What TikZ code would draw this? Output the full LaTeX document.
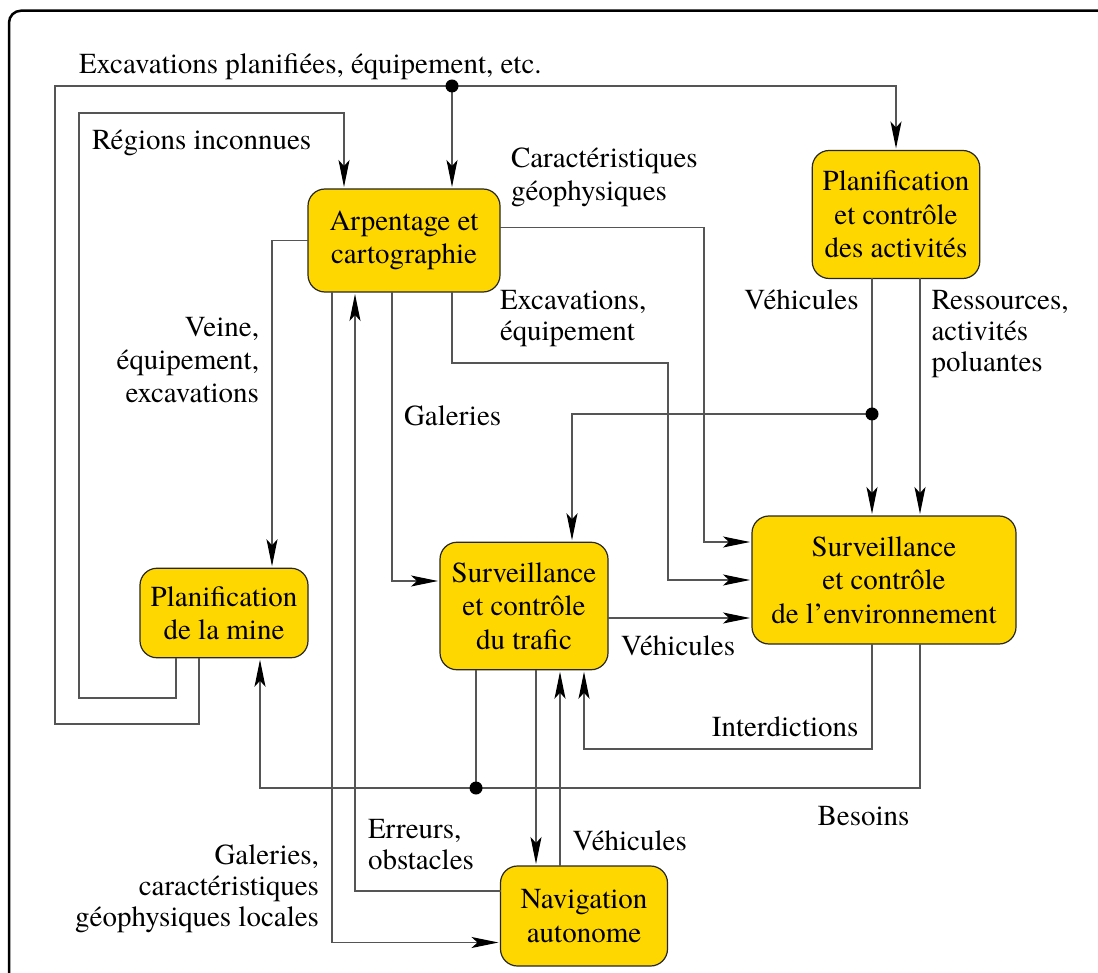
\documentclass[tikz,border=0pt]{standalone}
\usepackage{fontspec}
\setmainfont{TeX Gyre Termes}
\usetikzlibrary{arrows.meta}
\definecolor{boxfill}{RGB}{255,215,0}
\definecolor{linegray}{RGB}{85,85,85}
\newcommand\mlines[2]{\begin{tabular}[t]{@{}#1@{}}#2\end{tabular}}
\begin{document}
\begin{tikzpicture}[x=1pt,y=-1pt,
  box/.style={draw=black!85, line width=1.2pt, fill=boxfill, rounded corners=17pt,
    inner sep=0pt, outer sep=0pt, align=center, font=\fontsize{29}{33.5}\selectfont},
  conn/.style={draw=linegray, line width=1.3pt},
  arr/.style={conn, shorten >=2pt, -{Stealth[length=27pt,width=11pt,inset=6pt,color=black]}},
  lbl/.style={inner sep=0pt, outer sep=0pt, font=\fontsize{29}{31}\selectfont},
  lblw/.style={lbl, font=\fontsize{29}{33}\selectfont}
]
\useasboundingbox (0,0) rectangle (1098,973);
\begin{scope}
\clip (0,0) rectangle (1098,973);
\draw[line width=2.5pt, rounded corners=12pt] (9,990) -- (9,10.7) -- (1110,10.7);
\end{scope}

% boxes
\node[box, minimum width=192pt, minimum height=103pt] (arp) at (404,240.5) {Arpentage et\\cartographie};
\node[box, minimum width=167.5pt, minimum height=128pt] (pac) at (896,214.5) {Planification\\et contrôle\\des activités};
\node[box, minimum width=264pt, minimum height=128pt] (env) at (884,580) {Surveillance\\et contrôle\\de l’environnement};
\node[box, minimum width=168pt, minimum height=127.5pt] (tra) at (524,606) {Surveillance\\et contrôle\\du trafic};
\node[box, minimum width=168pt, minimum height=89.5pt] (mine) at (224,613) {Planification\\de la mine};
\node[box, minimum width=167pt, minimum height=100pt] (nav) at (584,916) {Navigation\\autonome};

% junctions
\coordinate (d1) at (452,86);
\coordinate (d2) at (872,414);
\coordinate (d3) at (476,788);

% Excavations planifiees
\draw[arr] ([xshift=-25pt]mine.south) -- (199,724) -- (55,724) -- (55,86) -- (896,86) -- (pac.north);
\draw[arr] (d1) -- ([xshift=48pt]arp.north);
% Regions inconnues
\draw[arr] ([xshift=-48pt]mine.south) -- (176,698) -- (79,698) -- (79,113) -- (344,113) -- ([xshift=-60pt]arp.north);
% Veine
\draw[arr] (arp.west) -- (272,240.5) -- ([xshift=48pt]mine.north);
% Caracteristiques
\draw[arr] ([yshift=13pt]arp.east) -- (704,227.5) -- (704,542) -- ([yshift=38pt]env.west);
% Excavations, equipement
\draw[arr] ([xshift=48pt]arp.south) -- (452,363) -- (668,363) -- (668,580) -- (env.west);
% Galeries
\draw[arr] ([xshift=-12pt]arp.south) -- (392,581) -- ([yshift=25pt]tra.west);
% Galeries, caracteristiques locales
\draw[arr] ([xshift=-72pt]arp.south) -- (332,942.5) -- ([yshift=-26.5pt]nav.west);
% Erreurs
\draw[arr] ([yshift=25pt]nav.west) -- (355,891) -- ([xshift=-49pt]arp.south);
% Vehicules from activities
\draw[conn] ([xshift=-24pt]pac.south) -- (d2);
\draw[arr] (d2) -- ([xshift=-12pt]env.north);
\draw[arr] (d2) -- (572,414) -- ([xshift=48pt]tra.north);
% Ressources
\draw[arr] ([xshift=24pt]pac.south) -- ([xshift=36pt]env.north);
% Vehicules traffic -> env
\draw[arr] ([yshift=-12pt]tra.east) -- ([yshift=-38pt]env.west);
% Interdictions
\draw[arr] ([xshift=-12pt]env.south) -- (872,749) -- (584,749) -- ([xshift=60pt]tra.south);
% Besoins
\draw[arr] ([xshift=36pt]env.south) -- (920,788) -- (260,788) -- ([xshift=36pt]mine.south);
\draw[conn] ([xshift=-48pt]tra.south) -- (d3);
% traffic <-> navigation
\draw[arr] ([xshift=12pt]tra.south) -- ([xshift=-48pt]nav.north);
\draw[arr] ([xshift=-24pt]nav.north) -- ([xshift=36pt]tra.south);

\foreach \d in {d1,d2,d3} \fill (\d) circle (6.5pt);

% labels
\node[lbl, anchor=base west] (l1) at (79,74) {Excavations planifiées, équipement, etc.};
\node[lbl, anchor=base west] (l2) at (92,150) {Régions inconnues};
\node[lblw, anchor=base west] (l3) at (511,168) {\mlines{l}{Caractéristiques\\géophysiques}};
\node[lblw, anchor=base east] (l4) at (259,337) {\mlines{r}{Veine,\\équipement,\\excavations}};
\node[lbl, anchor=base west] (l5) at (500,310) {\mlines{l}{Excavations,\\équipement}};
\node[lbl, anchor=base west] (l6) at (404,426) {Galeries};
\node[lbl, anchor=base east] (l7) at (858.5,310) {Véhicules};
\node[lbl, anchor=base west] (l8) at (931.5,310) {\mlines{l}{Ressources,\\activités\\poluantes}};
\node[lbl, anchor=base west] (l9) at (621,655) {Véhicules};
\node[lbl, anchor=base east] (l10) at (858.5,736) {Interdictions};
\node[lbl, anchor=base west] (l11) at (817.6,825) {Besoins};
\node[lbl, anchor=base west] (l12) at (572.7,850.6) {Véhicules};
\node[lbl, anchor=base west] (l13) at (368,838.6) {\mlines{l}{Erreurs,\\obstacles}};
\node[lbl, anchor=base east] (l14) at (319,864.6) {\mlines{r}{Galeries,\\caractéristiques\\géophysiques locales}};
\end{tikzpicture}
\end{document}
